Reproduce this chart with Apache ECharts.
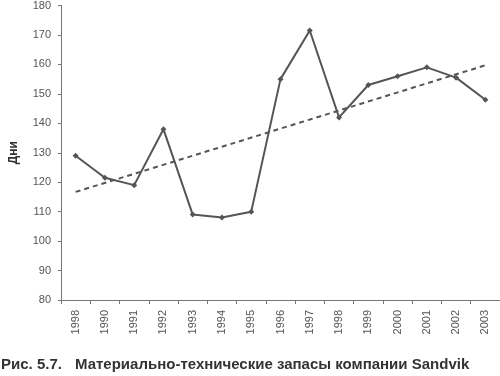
<!DOCTYPE html>
<html>
<head>
<meta charset="utf-8">
<script src="https://cdn.jsdelivr.net/npm/echarts@6/dist/echarts.min.js"></script>
<style>
  html, body { margin: 0; padding: 0; background: #fff; }
  #chart { width: 500px; height: 376px; }
</style>
</head>
<body>
<div id="chart"></div>
<script>
// years as printed on the figure (first label is printed as 1998)
var years = ['1998', '1990', '1991', '1992', '1993', '1994', '1995', '1996',
  '1997', '1998', '1999', '2000', '2001', '2002', '2003'];
// inventory, days
var days = [129, 121.5, 119, 138, 109, 108, 110, 155, 171.5, 142, 153, 156, 159, 155.5, 148];
// trend line end points
var trendStart = 116.7;
var trendEnd = 159.7;

var trend = years.map(function (y, i) {
  if (i === 0) return trendStart;
  if (i === years.length - 1) return trendEnd;
  return null;
});

var chart = echarts.init(document.getElementById('chart'));

var option = {
  animation: false,
  backgroundColor: '#fff',
  grid: { left: 55, top: 3, width: 446, height: 297 },
  xAxis: {
    type: 'category',
    data: years,
    boundaryGap: true,
    axisLine: { lineStyle: { color: '#777', width: 1 } },
    axisTick: { show: true, length: 4, lineStyle: { color: '#777' } },
    axisLabel: {
      rotate: 90,
      margin: 10,
      color: '#555',
      fontSize: 11,
      fontFamily: 'Liberation Sans'
    },
    splitLine: { show: false }
  },
  yAxis: {
    type: 'value',
    min: 80,
    max: 180,
    interval: 10,
    name: 'Дни',
    nameLocation: 'middle',
    nameGap: 41,
    nameTextStyle: { color: '#333', fontSize: 12, fontWeight: 'bold', fontFamily: 'Liberation Sans' },
    axisLine: { show: true, lineStyle: { color: '#777', width: 1 } },
    axisTick: { show: true, length: 3, lineStyle: { color: '#777' } },
    axisLabel: { margin: 10, color: '#555', fontSize: 11, fontFamily: 'Liberation Sans' },
    splitLine: { show: false }
  },
  series: [
    {
      type: 'line',
      data: days,
      symbol: 'diamond',
      symbolSize: 6,
      lineStyle: { color: '#555', width: 2 },
      itemStyle: { color: '#555' },
      z: 3
    },
    {
      type: 'line',
      data: trend,
      connectNulls: true,
      symbol: 'none',
      lineStyle: { color: '#555', width: 2, type: [5, 4] },
      z: 2
    }
  ],
  graphic: [
    {
      type: 'text',
      left: 1,
      top: 357,
      style: {
        text: 'Рис. 5.7.',
        fill: '#333',
        font: 'bold 15px "Liberation Sans Narrow", "Liberation Sans"'
      }
    },
    {
      type: 'text',
      left: 75,
      top: 357,
      style: {
        text: 'Материально-технические запасы компании Sandvik',
        fill: '#333',
        font: 'bold 15px "Liberation Sans"'
      }
    }
  ]
};

chart.setOption(option);
</script>
</body>
</html>
